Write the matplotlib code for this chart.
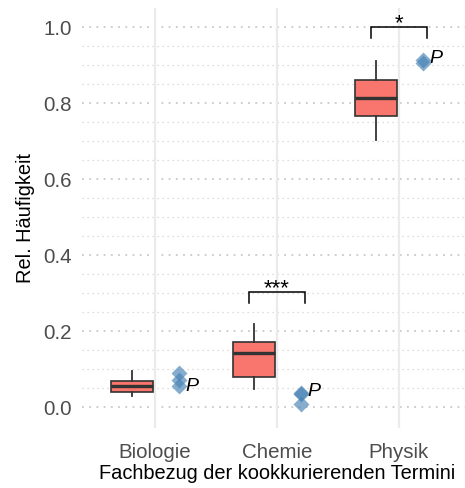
import matplotlib.pyplot as plt
import numpy as np

plt.rcParams["font.family"] = ["Liberation Sans", "DejaVu Sans"]

# Fachbezug-Kategorien und Kennwerte der Boxplots
categories = ["Biologie", "Chemie", "Physik"]
whisker_low = [0.029, 0.047, 0.703]
quart1 = [0.040, 0.079, 0.766]
medians = [0.055, 0.143, 0.812]
quart3 = [0.069, 0.172, 0.861]
whisker_high = [0.095, 0.218, 0.911]

# Einzelwerte (Rauten) je Kategorie
points_bio = [0.089, 0.072, 0.056]
points_chem = [0.037, 0.034, 0.008]
points_phys = [0.912, 0.905]
points = [points_bio, points_chem, points_phys]

# Position der "P"-Beschriftung
p_label_y = [0.053, 0.040, 0.918]

# Signifikanzklammern
sig_labels = ["***", "*"]
sig_cat = [1, 2]
sig_y = [0.304, 1.0]

yticks = [0.0, 0.2, 0.4, 0.6, 0.8, 1.0]
box_col = "#F8766D"
pt_col = "#4682B4"

fig = plt.figure(figsize=(4.65, 4.88), dpi=100)
ax = fig.add_axes([81.5 / 465, 60 / 488, (472 - 81.5) / 465, 420 / 488])

x = np.arange(len(categories))
ax.set_xlim(-0.6, len(categories) - 1 + 0.6)
ax.set_ylim(-0.055, 1.05)

# Gitter: gepunktet alle 0.05, Hauptlinien alle 0.2
for yv in np.arange(0, 1.0001, 0.05):
    major = np.isclose(yv % 0.2, 0) or np.isclose(yv % 0.2, 0.2)
    ax.axhline(yv, color="#c8c8c8" if major else "#d2d2d2",
               lw=1.3 if major else 0.9, ls=(0, (1, 3)), zorder=0)
for xv in x:
    ax.axvline(xv, color="#ebebeb", lw=1.6, zorder=0)

stats = []
for i in range(len(categories)):
    stats.append(dict(whislo=whisker_low[i], q1=quart1[i], med=medians[i],
                      q3=quart3[i], whishi=whisker_high[i]))
ax.bxp(stats, positions=x - 0.185, widths=0.345, showcaps=False,
       showfliers=False, patch_artist=True,
       boxprops=dict(facecolor=box_col, edgecolor="#333333", linewidth=1.2),
       medianprops=dict(color="#333333", linewidth=2.4),
       whiskerprops=dict(color="#333333", linewidth=1.3), zorder=2)

for i, vals in enumerate(points):
    ax.plot([x[i] + 0.2] * len(vals), vals, "D", ms=8, color=pt_col,
            alpha=0.65, mec="none", zorder=3)
    ax.text(x[i] + 0.255, p_label_y[i], "P", style="italic", fontsize=14,
            ha="left", va="center", zorder=4)

for lab, c, yv in zip(sig_labels, sig_cat, sig_y):
    ax.plot([c - 0.23, c - 0.23, c + 0.23, c + 0.23],
            [yv - 0.03, yv, yv, yv - 0.03], color="black", lw=1.1,
            solid_joinstyle="miter", zorder=4)
    ax.text(c, yv - 0.006, lab, fontsize=16, ha="center", va="baseline")

for s in ax.spines.values():
    s.set_visible(False)
ax.set_xticks(x)
ax.set_xticklabels(categories)
ax.set_yticks(yticks)
ax.set_yticklabels([f"{v:.1f}" for v in yticks])
ax.tick_params(length=0, labelsize=14.8, labelcolor="#4d4d4d")
ax.tick_params(axis="y", pad=7)
ax.tick_params(axis="x", pad=11)
ax.set_xlabel("Fachbezug der kookkurierenden Termini", fontsize=14.4, labelpad=1)
ax.set_ylabel("Rel. Häufigkeit", fontsize=14.4, labelpad=6)

fig.savefig("out.png", dpi=100)
